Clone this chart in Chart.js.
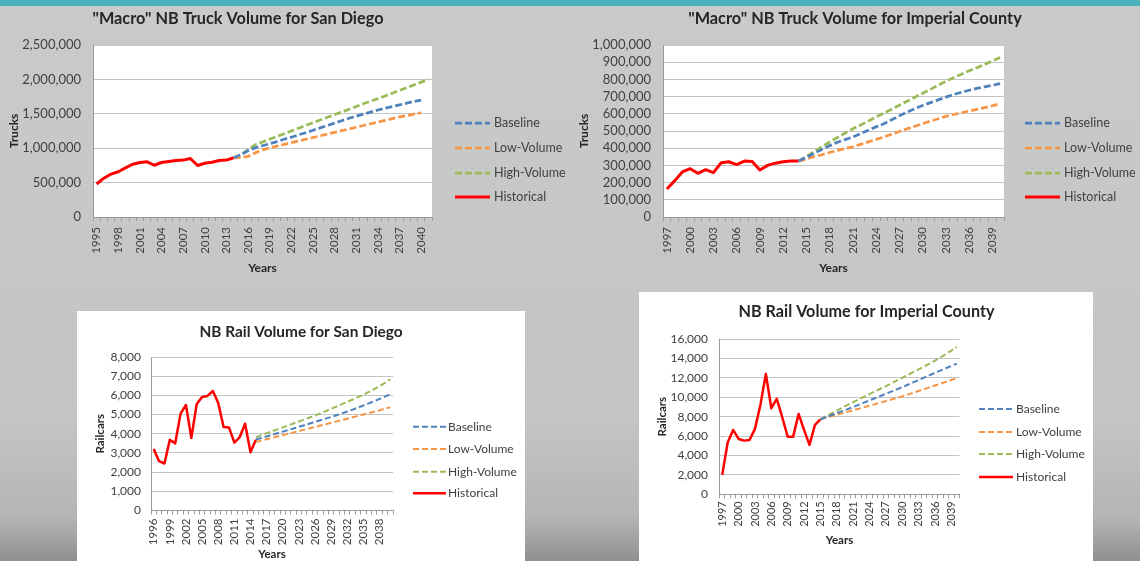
<!DOCTYPE html>
<html>
<head>
<meta charset="utf-8">
<title>NB Truck and Rail Volume</title>
<script src="https://cdn.jsdelivr.net/npm/chart.js@4.4.1/dist/chart.umd.min.js"></script>
<style>
  html, body { margin:0; padding:0; }
  body { width:1140px; height:561px; overflow:hidden; position:relative;
    background: linear-gradient(to bottom, #c9cbcb 0%, #c3c5c5 75%, #b4b6b6 92%, #8f9191 100%);
    font-family: Lato, sans-serif; }
  #band { position:absolute; left:0; top:0; width:1140px; height:6px; background:#4cb3be; }
  canvas { position:absolute; display:block; }
  #c3, #c4 { background:#ffffff; }
</style>
</head>
<body>
<div id="band"></div>
<canvas id="c1" width="570" height="284" style="left:0px;top:6px;width:570px;height:284px"></canvas>
<canvas id="c2" width="570" height="284" style="left:570px;top:6px;width:570px;height:284px"></canvas>
<canvas id="c3" width="448" height="250" style="left:77px;top:311px;width:448px;height:250px"></canvas>
<canvas id="c4" width="454" height="269" style="left:639px;top:292px;width:454px;height:269px"></canvas>
<script>
// ---------------- DATA ----------------
const seriesNames = ['Baseline', 'Low-Volume', 'High-Volume', 'Historical'];

// "Macro" NB Truck Volume for San Diego (categories 1995-2041)
const sdTruckFirstYear = 1995, sdTruckLastYear = 2041;
const sdTruckHistStart = 1995;
const sdTruckHistorical = [480000, 564000, 624000, 658000, 713000, 767000, 792000, 802000, 752000, 792000,
  807000, 822000, 827000, 851000, 748000, 782000, 797000, 822000, 827000, 861000];
const sdTruckFcstStart = 2014;
const sdTruckBaseline = [861000, 905000, 962000, 1005000, 1035000, 1065000, 1095000, 1130000, 1160000, 1195000,
  1225000, 1260000, 1295000, 1330000, 1365000, 1400000, 1435000, 1465000, 1495000, 1525000,
  1555000, 1580000, 1605000, 1630000, 1655000, 1680000, 1700000];
const sdTruckLow = [861000, 862000, 880000, 935000, 975000, 1005000, 1030000, 1055000, 1080000, 1105000,
  1130000, 1155000, 1180000, 1205000, 1230000, 1255000, 1280000, 1305000, 1330000, 1355000,
  1380000, 1405000, 1430000, 1455000, 1475000, 1495000, 1515000];
const sdTruckHigh = [861000, 900000, 980000, 1050000, 1090000, 1130000, 1170000, 1210000, 1250000, 1290000,
  1330000, 1370000, 1410000, 1450000, 1490000, 1525000, 1565000, 1605000, 1645000, 1685000,
  1720000, 1760000, 1800000, 1840000, 1880000, 1920000, 1960000, 2000000];

// "Macro" NB Truck Volume for Imperial County (categories 1997-2040)
const icTruckFirstYear = 1997, icTruckLastYear = 2040;
const icTruckHistStart = 1997;
const icTruckHistorical = [163000, 210000, 262000, 281000, 254000, 275000, 258000, 315000, 321000, 305000,
  325000, 323000, 273000, 300000, 313000, 321000, 325000, 325000];
const icTruckFcstStart = 2014;
const icTruckBaseline = [325000, 347000, 370000, 393000, 415000, 435000, 450000, 465000, 485000, 505000,
  524000, 542000, 565000, 588000, 610000, 630000, 648000, 665000, 681000, 697000,
  712000, 725000, 737000, 748000, 757000, 766000, 775000];
const icTruckLow = [325000, 337000, 350000, 362000, 375000, 387000, 398000, 408000, 422000, 437000,
  451000, 465000, 481000, 497000, 513000, 528000, 543000, 557000, 571000, 585000,
  596000, 606000, 616000, 626000, 636000, 647000, 658000];
const icTruckHigh = [325000, 352000, 380000, 408000, 436000, 462000, 488000, 513000, 535000, 558000,
  582000, 604000, 627000, 650000, 673000, 696000, 719000, 742000, 766000, 790000,
  810000, 830000, 850000, 868000, 887000, 907000, 927000];

// NB Rail Volume for San Diego (categories 1996-2040)
const sdRailFirstYear = 1996, sdRailLastYear = 2040;
const sdRailHistStart = 1996;
const sdRailHistorical = [3200, 2570, 2450, 3680, 3500, 5050, 5500, 3780, 5550, 5920,
  5970, 6230, 5600, 4350, 4330, 3540, 3830, 4520, 3030, 3690];
const sdRailFcstStart = 2015;
const sdRailBaseline = [3700, 3780, 3860, 3945, 4025, 4110, 4190, 4275, 4360, 4445,
  4530, 4615, 4700, 4790, 4875, 4965, 5060, 5160, 5260, 5365,
  5470, 5580, 5695, 5815, 5935, 6060];
const sdRailLow = [3565, 3640, 3710, 3785, 3855, 3930, 4000, 4070, 4140, 4215,
  4285, 4355, 4430, 4500, 4570, 4645, 4715, 4785, 4860, 4930,
  5000, 5075, 5150, 5225, 5305, 5385];
const sdRailHigh = [3826, 3925, 4025, 4125, 4225, 4330, 4430, 4535, 4640, 4745,
  4850, 4955, 5060, 5180, 5300, 5420, 5540, 5660, 5785, 5910,
  6040, 6180, 6330, 6485, 6655, 6840];

// NB Rail Volume for Imperial County (categories 1997-2040)
const icRailFirstYear = 1997, icRailLastYear = 2040;
const icRailHistStart = 1997;
const icRailHistorical = [2000, 5330, 6630, 5700, 5530, 5600, 6740, 9210, 12400, 8870,
  9830, 7940, 5940, 5940, 8280, 6630, 5090, 7150, 7730];
const icRailFcstStart = 2015;
const icRailBaseline = [7730, 7940, 8150, 8360, 8570, 8780, 8990, 9215, 9440, 9670,
  9895, 10125, 10350, 10580, 10810, 11040, 11285, 11530, 11775, 12020,
  12265, 12510, 12750, 12990, 13230, 13470];
const icRailLow = [7730, 7885, 8035, 8190, 8345, 8500, 8650, 8810, 8970, 9130,
  9290, 9450, 9605, 9765, 9925, 10085, 10270, 10455, 10640, 10830,
  11020, 11210, 11395, 11585, 11775, 11965];
const icRailHigh = [7730, 8030, 8325, 8620, 8915, 9210, 9500, 9775, 10050, 10325,
  10600, 10875, 11150, 11430, 11715, 12000, 12290, 12580, 12875, 13170,
  13470, 13780, 14110, 14450, 14810, 15180];

// axis settings (tick labels)
const sdTruckYMax = 2500000, sdTruckYStep = 500000;
const icTruckYMax = 1000000, icTruckYStep = 100000;
const sdRailYMax = 8000, sdRailYStep = 1000;
const icRailYMax = 16000, icRailYStep = 2000;
const xLabelEvery = 3;

// ---------------- HELPERS ----------------
function yearList(a, b) { const out = []; for (let y = a; y <= b; y++) out.push(String(y)); return out; }
function place(labels, start, values) {
  return labels.map(l => { const i = Number(l) - start; return (i >= 0 && i < values.length) ? values[i] : null; });
}

const BLUE = '#4f81bd', ORANGE = '#f79646', GREEN = '#9bbb59', RED = '#ff0000';
const TXT = '#404040', AXIS = '#9a9a9a', GRID = '#c4c4c4';
const FONT = 'Lato, "Open Sans", sans-serif';

const overlayPlugin = {
  id: 'overlay',
  beforeDraw(chart, args, o) {
    if (o.plotBg) {
      const a = chart.chartArea, ctx = chart.ctx;
      ctx.save(); ctx.fillStyle = o.plotBg; ctx.fillRect(a.left, a.top, a.right - a.left, a.bottom - a.top); ctx.restore();
    }
  },
  afterDraw(chart, args, o) {
    const ctx = chart.ctx;
    ctx.save();
    // chart title
    ctx.fillStyle = '#262626';
    ctx.font = 'bold ' + o.titleSize + 'px ' + FONT;
    ctx.textAlign = 'center'; ctx.textBaseline = 'middle';
    ctx.fillText(o.title, o.titleX, o.titleY);
    // legend
    chart.data.datasets.forEach((ds, i) => {
      const y = o.legendY[i];
      ctx.beginPath();
      ctx.setLineDash(ds.borderDash || []);
      ctx.lineWidth = ds.borderWidth;
      ctx.strokeStyle = ds.borderColor;
      ctx.lineCap = 'butt';
      ctx.moveTo(o.legendX1, y); ctx.lineTo(o.legendX2, y); ctx.stroke();
      ctx.setLineDash([]);
      ctx.fillStyle = TXT;
      ctx.font = o.legendSize + 'px ' + FONT;
      ctx.textAlign = 'left'; ctx.textBaseline = 'middle';
      ctx.fillText(ds.label, o.legendTX, y);
    });
    ctx.restore();
  }
};

function makeChart(id, d, L) {
  const labels = yearList(d.first, d.last);
  const common = { pointRadius: 0, pointHoverRadius: 0, fill: false, tension: 0, borderJoinStyle: 'round', borderCapStyle: 'butt' };
  const datasets = [
    Object.assign({ label: seriesNames[0], data: place(labels, d.fStart, d.base), borderColor: BLUE, borderDash: L.dash, borderWidth: L.dashW }, common),
    Object.assign({ label: seriesNames[1], data: place(labels, d.fStart, d.low), borderColor: ORANGE, borderDash: L.dash, borderWidth: L.dashW }, common),
    Object.assign({ label: seriesNames[2], data: place(labels, d.fStart, d.high), borderColor: GREEN, borderDash: L.dash, borderWidth: L.dashW }, common),
    Object.assign({ label: seriesNames[3], data: place(labels, d.hStart, d.hist), borderColor: RED, borderWidth: L.solidW }, common)
  ];
  return new Chart(document.getElementById(id), {
    type: 'line',
    data: { labels, datasets },
    plugins: [overlayPlugin],
    options: {
      responsive: false, animation: false, devicePixelRatio: 1,
      layout: { padding: { left: L.padLeft, right: L.padRight, top: L.padTop, bottom: 0 } },
      plugins: {
        legend: { display: false }, tooltip: { enabled: false }, title: { display: false },
        overlay: { plotBg: L.plotBg, title: d.title, titleX: L.titleX, titleY: L.titleY, titleSize: L.titleSize,
          legendX1: L.lx1, legendX2: L.lx2, legendTX: L.ltx, legendY: L.ly, legendSize: L.legendSize }
      },
      scales: {
        x: {
          type: 'category', offset: true,
          grid: { display: true, drawOnChartArea: false, drawTicks: true, tickLength: 4, offset: true, color: AXIS, lineWidth: 1 },
          border: { display: true, color: AXIS, width: 1 },
          ticks: { autoSkip: false, maxRotation: 90, minRotation: 90, padding: L.xTickPad, color: TXT,
            font: { family: FONT, size: L.xTickSize },
            callback: (v, i) => (i % xLabelEvery === 0 ? labels[i] : '') },
          title: { display: true, text: 'Years', color: '#262626', font: { family: FONT, size: L.axTitleSize, weight: 'bold' },
            padding: { top: 0, bottom: L.xTitlePad } },
          afterFit: s => { s.height = L.xH; }
        },
        y: {
          min: 0, max: d.yMax,
          ticks: { stepSize: d.yStep, autoSkip: false, padding: L.yTickPad, color: TXT, font: { family: FONT, size: L.yTickSize },
            callback: v => Number(v).toLocaleString('en-US') },
          grid: { color: GRID, drawTicks: false, lineWidth: 1 },
          border: { display: true, color: AXIS, width: 1 },
          title: { display: true, text: d.yTitle, color: '#262626', font: { family: FONT, size: L.axTitleSize, weight: 'bold' },
            padding: { top: L.yTitlePad, bottom: 0 } },
          afterFit: s => { s.width = L.yW; }
        }
      }
    }
  });
}

const topLayout = { padLeft: 4, yW: 89, padRight: 138, padTop: 39, xH: 73, plotBg: '#ffffff',
  titleX: 238, titleY: 13, titleSize: 16.3, lx1: 455, lx2: 490, ltx: 494, ly: [117, 142, 167, 191], legendSize: 12.5,
  xTickPad: 6, xTickSize: 11.5, yTickPad: 12, yTickSize: 13, axTitleSize: 12, xTitlePad: 15, yTitlePad: 3,
  dash: [7, 3], dashW: 2.75, solidW: 3 };

makeChart('c1', { first: sdTruckFirstYear, last: sdTruckLastYear, hStart: sdTruckHistStart, hist: sdTruckHistorical,
  fStart: sdTruckFcstStart, base: sdTruckBaseline, low: sdTruckLow, high: sdTruckHigh,
  yMax: sdTruckYMax, yStep: sdTruckYStep, yTitle: 'Trucks', title: '"Macro" NB Truck Volume for San Diego' }, topLayout);

makeChart('c2', { first: icTruckFirstYear, last: icTruckLastYear, hStart: icTruckHistStart, hist: icTruckHistorical,
  fStart: icTruckFcstStart, base: icTruckBaseline, low: icTruckLow, high: icTruckHigh,
  yMax: icTruckYMax, yStep: icTruckYStep, yTitle: 'Trucks', title: '"Macro" NB Truck Volume for Imperial County' },
  Object.assign({}, topLayout, { padRight: 136, titleX: 285 }));

makeChart('c3', { first: sdRailFirstYear, last: sdRailLastYear, hStart: sdRailHistStart, hist: sdRailHistorical,
  fStart: sdRailFcstStart, base: sdRailBaseline, low: sdRailLow, high: sdRailHigh,
  yMax: sdRailYMax, yStep: sdRailYStep, yTitle: 'Railcars', title: 'NB Rail Volume for San Diego' },
  { padLeft: 4, yW: 70, padRight: 132, padTop: 46, xH: 50.5, plotBg: null,
    titleX: 224, titleY: 20.7, titleSize: 15.4, lx1: 336, lx2: 369, ltx: 371, ly: [115.7, 138, 160.7, 182.3], legendSize: 12,
    xTickPad: 4, xTickSize: 11.5, yTickPad: 10, yTickSize: 12, axTitleSize: 11.5, xTitlePad: 0, yTitlePad: 12,
    dash: [6, 3], dashW: 2, solidW: 2.5 });

makeChart('c4', { first: icRailFirstYear, last: icRailLastYear, hStart: icRailHistStart, hist: icRailHistorical,
  fStart: icRailFcstStart, base: icRailBaseline, low: icRailLow, high: icRailHigh,
  yMax: icRailYMax, yStep: icRailYStep, yTitle: 'Railcars', title: 'NB Rail Volume for Imperial County' },
  { padLeft: 4, yW: 76.5, padRight: 133.5, padTop: 47, xH: 66.7, plotBg: null,
    titleX: 227.5, titleY: 19.7, titleSize: 16.2, lx1: 340, lx2: 374, ltx: 377, ly: [117, 140, 162, 185], legendSize: 12,
    xTickPad: 3, xTickSize: 11, yTickPad: 11.5, yTickSize: 12, axTitleSize: 11.5, xTitlePad: 14, yTitlePad: 12.5,
    dash: [6, 3], dashW: 2, solidW: 2.5 });
</script>
</body>
</html>
